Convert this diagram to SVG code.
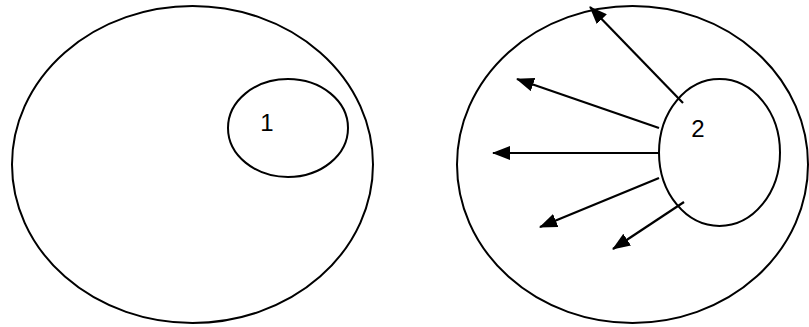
<svg xmlns="http://www.w3.org/2000/svg" width="809" height="327" viewBox="0 0 809 327">
<style>
.e{fill:none;stroke:#000;stroke-width:2}
.a{fill:none;stroke:#000;stroke-width:2.2;marker-end:url(#ah)}
.t{font-family:"Liberation Sans",Arial,sans-serif;font-size:24px;fill:#000;text-anchor:middle}
</style>
<defs>
<marker id="ah" markerUnits="userSpaceOnUse" markerWidth="18" markerHeight="14" refX="17" refY="7" orient="auto" viewBox="0 0 18 14">
<path d="M0,0 L18,7 L0,14 z" fill="#000"/>
</marker>
</defs>
<rect width="809" height="327" fill="#fff"/>
<g id="outer-left"><ellipse class="e" cx="192.5" cy="164.5" rx="180.5" ry="158.5"/></g>
<g id="node-1"><ellipse class="e" cx="288" cy="128" rx="60" ry="49"/><text class="t" x="267" y="131">1</text></g>
<g id="outer-right"><ellipse class="e" cx="632.5" cy="164.5" rx="175.5" ry="158.5"/></g>
<g id="node-2"><ellipse class="e" cx="719.5" cy="152.5" rx="60.5" ry="73.5"/><text class="t" x="698" y="137">2</text></g>
<g id="connectors">
<line class="a" x1="683" y1="103" x2="590" y2="7"/>
<line class="a" x1="659" y1="128" x2="517" y2="79"/>
<line class="a" x1="659" y1="153" x2="493" y2="153"/>
<line class="a" x1="659" y1="178" x2="540" y2="227"/>
<line class="a" x1="684" y1="202" x2="613" y2="249"/>
</g>
</svg>
